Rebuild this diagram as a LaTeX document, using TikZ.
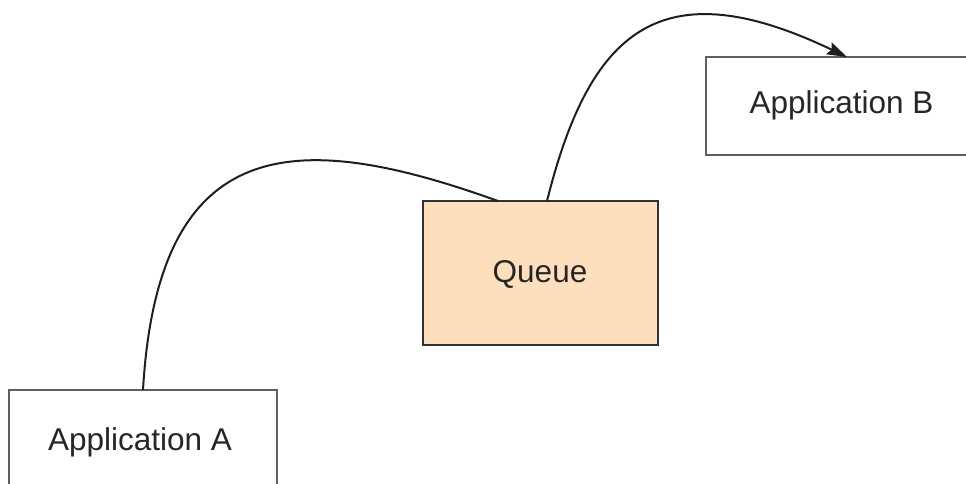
\documentclass[tikz,border=0pt]{standalone}
\usepackage{fontspec}
\setmainfont{Liberation Sans}
\usetikzlibrary{arrows.meta}
\definecolor{queuefill}{RGB}{253,223,190}
\definecolor{appedge}{RGB}{95,95,95}
\definecolor{queueedge}{RGB}{50,50,50}
\definecolor{flowline}{RGB}{30,30,30}
\begin{document}
\begin{tikzpicture}[x=1pt,y=-1pt,
  appbox/.style={draw=appedge,line width=2.6pt,fill=white,inner sep=0pt,outer sep=0pt},
  queuebox/.style={draw=queueedge,line width=2.6pt,fill=queuefill,inner sep=0pt,outer sep=0pt},
  lbl/.style={anchor=base,inner sep=0pt,font=\fontsize{31.5}{38}\selectfont,text=black!85},
  flow/.style={draw=flowline,line width=2pt}]
  \useasboundingbox (0,0) rectangle (966,483);
  \clip (0,0) rectangle (966,483);

  % application and queue boxes
  \node[appbox,minimum width=268pt,minimum height=140pt] (appA) at (143,460) {};
  \node[appbox,minimum width=300pt,minimum height=98pt] (appB) at (856,106) {};
  \node[queuebox,minimum width=235pt,minimum height=144pt] (queue) at (540.5,273) {};

  % box labels
  \node[lbl] (labA) at (140,450) {Application A};
  \node[lbl] (labB) at (841.5,113) {Application B};
  \node[lbl] (labQ) at (540,282) {Queue};

  % message flow: sender -> queue -> receiver
  \draw[flow] ([xshift=134pt]appA.north west)
    .. controls (158,130) and (298,129) .. ([xshift=75pt]queue.north west);
  \draw[flow,-{Stealth[length=20pt,width=13pt,inset=3pt]}] ([xshift=124pt]queue.north west)
    .. controls (589.5,31) and (660,-32.5) .. ([xshift=141pt]appB.north west);
\end{tikzpicture}
\end{document}
